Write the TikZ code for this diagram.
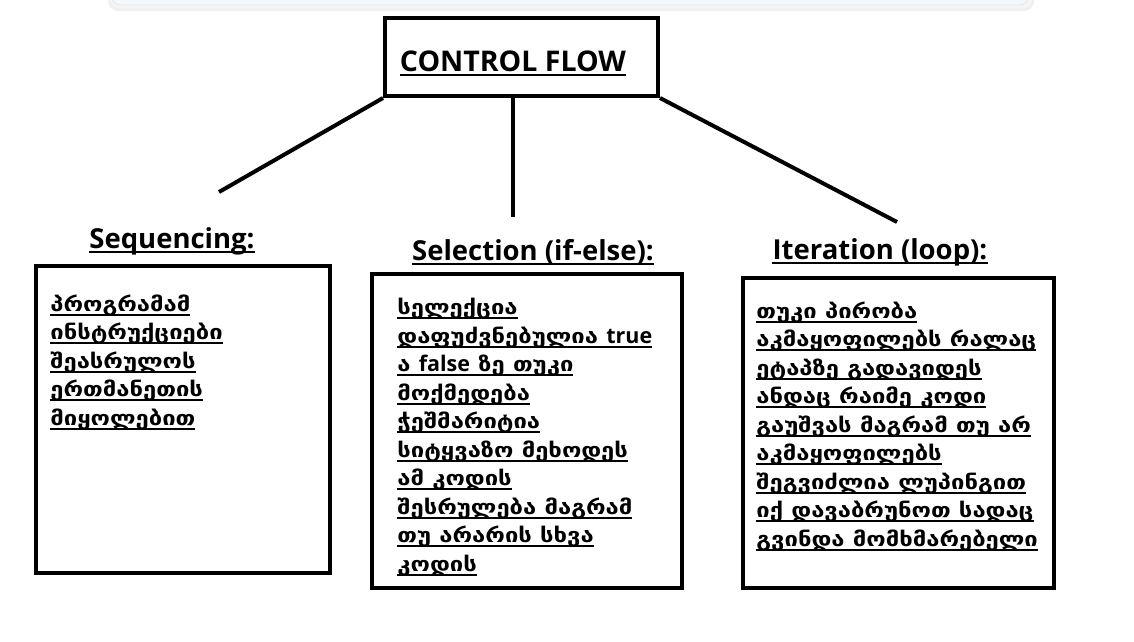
\documentclass[tikz,border=0pt]{standalone}
\usepackage{fontspec}
\setmainfont{Open Sans}
\newfontfamily\geo[FakeStretch=1.19]{DejaVu Sans Bold}
\usetikzlibrary{positioning}

\definecolor{cardgrey}{HTML}{F5F8FA}
\definecolor{cardedge}{HTML}{E3E8EC}

% underline of one line of text
\newbox\ulbox
\newcommand\ulin[1]{\leavevmode\setbox\ulbox\hbox{#1}%
  \vtop{\copy\ulbox\kern\dimexpr2.5pt-\dp\ulbox\relax\hrule height 2pt}}
% latin words inside the georgian lines
\newcommand\lat[1]{{\rmfamily\bfseries\fontsize{21.5}{28.5}\selectfont #1}}

\begin{document}
\begin{tikzpicture}[x=1pt,y=-1pt,thick,
  box/.style={draw,line width=4pt,inner sep=0pt},
  head/.style={font=\bfseries\fontsize{27.5}{32}\selectfont,inner sep=0pt},
  headline/.style={line width=2.2pt},
  body/.style={font=\geo\fontsize{20}{28.5}\selectfont,align=left,inner sep=0pt,anchor=north west}]

  \useasboundingbox (0,0) rectangle (1134,641);

  % card at the top edge
  \fill[black!6,rounded corners=10pt] (108,-20) rectangle (1034,11);
  \fill[black!4,rounded corners=9pt] (110,-20) rectangle (1032,8);
  \fill[cardgrey,draw=cardedge,rounded corners=8pt] (112,-20) rectangle (1028,5);

  \node[box,minimum width=273pt,minimum height=78pt] (cf) at (521.5,57) {};
  \node[font=\bfseries\fontsize{28.5}{32}\selectfont,inner sep=0pt] (cftext) at (513,61) {CONTROL FLOW};

  \coordinate (seqend) at (219,192);
  \coordinate (selend) at (513,217);
  \coordinate (iterend) at (897,222);

  \draw[line width=4pt] (cf.south west) -- (seqend);
  \draw[line width=4pt] (cf.south -| selend) -- (selend);
  \draw[line width=4pt] (cf.south east) -- (iterend);

  \node[head] (seqhead) at (172,241) {Sequencing:};
  \node[head] (selhead) at (533,252) {Selection (if-else):};
  \node[head] (iterhead) at (880,252) {Iteration (loop):};

  % underlines of the headings
  \draw[headline] ([yshift=-4pt]cftext.base west) -- ([yshift=-4pt]cftext.base east);
  \draw[headline] ([yshift=-4pt]seqhead.base west) -- ([yshift=-4pt]seqhead.base east);
  \draw[headline] ([yshift=-4pt]selhead.base west) -- ([yshift=-4pt]selhead.base east);
  \draw[headline] ([yshift=-4pt]iterhead.base west) -- ([yshift=-4pt]iterhead.base east);

  \node[box,minimum width=294pt,minimum height=307pt] (seqbox) at (183,419.5) {};
  \node[box,minimum width=310pt,minimum height=314pt] (selbox) at (527,431) {};
  \node[box,minimum width=311pt,minimum height=310pt] (iterbox) at (898.5,433) {};

  \node[body] (seqtext) at (50,294) {\ulin{პროგრამამ}\\
    \ulin{ინსტრუქციები}\\
    \ulin{შეასრულოს}\\
    \ulin{ერთმანეთის}\\
    \ulin{მიყოლებით}};

  \node[body] (seltext) at (397,298) {\ulin{სელექცია}\\
    \ulin{დაფუძვნებულია \lat{true}}\\
    \ulin{ა \lat{false} ზე თუკი}\\
    \ulin{მოქმედება}\\
    \ulin{ჭეშმარიტია}\\
    \ulin{სიტყვაზო მეხოდეს}\\
    \ulin{ამ კოდის}\\
    \ulin{შესრულება მაგრამ}\\
    \ulin{თუ არარის სხვა}\\
    \ulin{კოდის}};

  \node[body] (itertext) at (756,301) {\ulin{თუკი პირობა}\\
    \ulin{აკმაყოფილებს რალაც}\\
    \ulin{ეტაპზე გადავიდეს}\\
    \ulin{ანდაც რაიმე კოდი}\\
    \ulin{გაუშვას მაგრამ თუ არ}\\
    \ulin{აკმაყოფილებს}\\
    \ulin{შეგვიძლია ლუპინგით}\\
    \ulin{იქ დავაბრუნოთ სადაც}\\
    \ulin{გვინდა მომხმარებელი}};
\end{tikzpicture}
\end{document}
